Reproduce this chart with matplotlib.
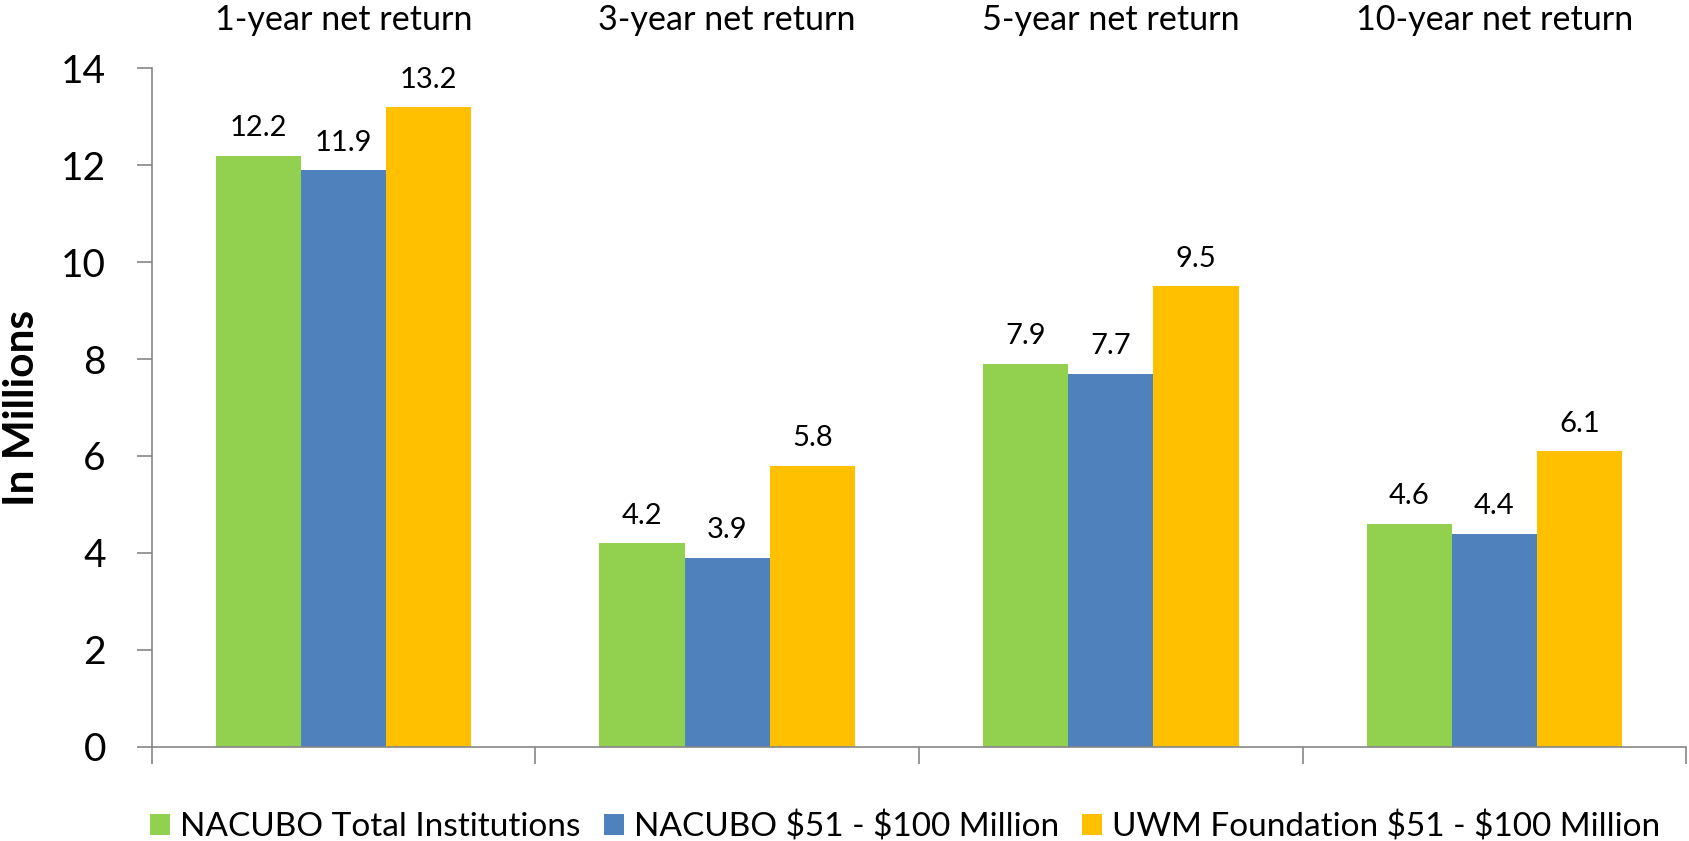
import matplotlib
matplotlib.use("Agg")
import matplotlib.pyplot as plt
import numpy as np

categories = ["1-year net return", "3-year net return", "5-year net return", "10-year net return"]
series_names = ["NACUBO Total Institutions", "NACUBO \\$51 - \\$100 Million", "UWM Foundation \\$51 - \\$100 Million"]
nacubo_total = [12.2, 4.2, 7.9, 4.6]
nacubo_51_100 = [11.9, 3.9, 7.7, 4.4]
uwm_foundation = [13.2, 5.8, 9.5, 6.1]
colors = ["#92D050", "#4F81BD", "#FFC000"]
yticks = [0, 2, 4, 6, 8, 10, 12, 14]

plt.rcParams['font.family'] = ['Lato', 'DejaVu Sans']

fig = plt.figure(figsize=(16.9, 8.41), dpi=100)
ax = fig.add_axes([0.0898, 0.1121, 0.908, 0.8067])

x = np.arange(len(categories))
bw = 0.222
for i, (vals, name, c) in enumerate(zip([nacubo_total, nacubo_51_100, uwm_foundation], series_names, colors)):
    pos = x + (i - 1) * bw
    bars = ax.bar(pos, vals, width=bw, color=c, label=name, zorder=2)
    for b, v in zip(bars, vals):
        ax.text(b.get_x() + b.get_width() / 2, v + 0.30, f"{v:.1f}", ha='center', va='bottom',
                fontsize=21, color='black')

ax.set_xlim(-0.5, len(categories) - 0.5)
ax.set_ylim(0, 14)
ax.set_yticks(yticks)
ax.set_yticklabels([str(t) for t in yticks], fontsize=28)
ax.set_xticks(x)
ax.set_xticklabels(categories, fontsize=24.6)
ax.set_xticks(np.arange(-0.5, len(categories)), minor=True)
ax.tick_params(axis='x', which='major', top=True, labeltop=True, bottom=False, labelbottom=False,
               length=0, pad=23)
ax.tick_params(axis='x', which='minor', bottom=True, length=12, color='#868686', width=1.2)
ax.tick_params(axis='y', which='major', length=11, color='#868686', width=1.2, pad=22)

for s in ['top', 'right']:
    ax.spines[s].set_visible(False)
for s in ['left', 'bottom']:
    ax.spines[s].set_color('#868686')
    ax.spines[s].set_linewidth(1.2)

ax.set_ylabel("In Millions", fontsize=30.5, fontweight='bold', labelpad=14)

ax.legend(loc='lower center', bbox_to_anchor=(0.491, -0.185), ncol=3, frameon=False,
          fontsize=24, handlelength=0.6, handleheight=0.6, handletextpad=0.3, columnspacing=0.7)

fig.savefig("out.png", dpi=100)
